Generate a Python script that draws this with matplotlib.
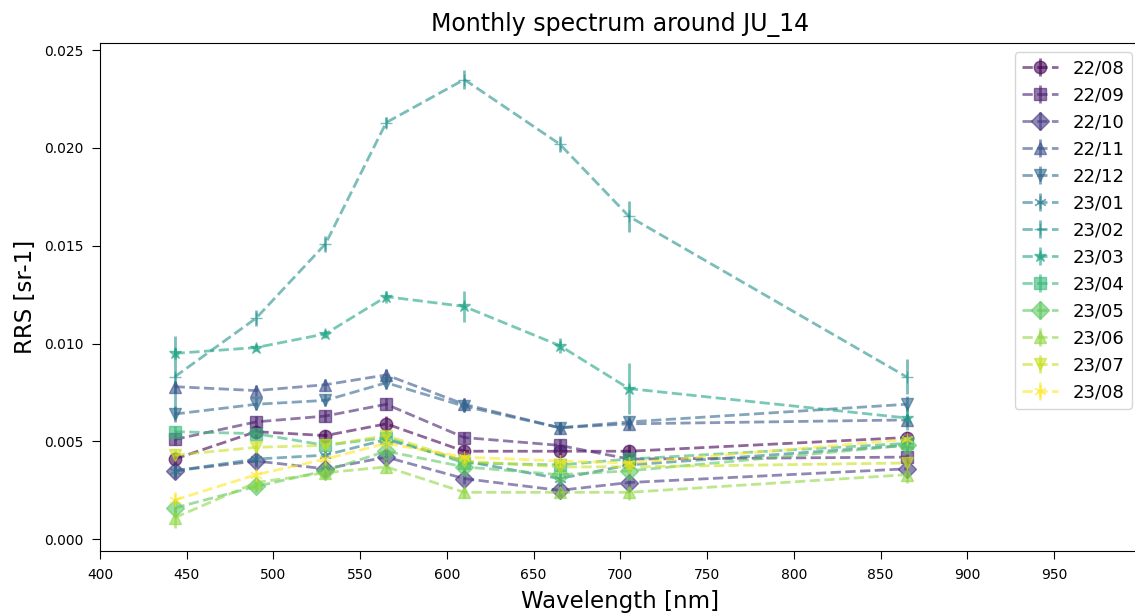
import matplotlib
matplotlib.use('Agg')
import matplotlib.pyplot as plt
import numpy as np

wavelengths = [443, 490, 530, 565, 610, 665, 705, 865]
months = ['22/08', '22/09', '22/10', '22/11', '22/12', '23/01', '23/02',
          '23/03', '23/04', '23/05', '23/06', '23/07', '23/08']

# mean RRS per month (sr-1), one value per wavelength
rrs_2208 = [0.0041, 0.0055, 0.0053, 0.0059, 0.0045, 0.0045, 0.0045, 0.0052]
rrs_2209 = [0.0051, 0.0060, 0.0063, 0.0069, 0.0052, 0.0048, 0.0041, 0.0042]
rrs_2210 = [0.0035, 0.0040, 0.0036, 0.0042, 0.0031, 0.0025, 0.0029, 0.0036]
rrs_2211 = [0.0078, 0.0076, 0.0079, 0.0084, 0.0069, 0.0057, 0.0059, 0.0061]
rrs_2212 = [0.0064, 0.0069, 0.0071, 0.0080, 0.0068, 0.0057, 0.0060, 0.0069]
rrs_2301 = [0.0035, 0.0041, 0.0043, 0.0051, 0.0040, 0.0031, 0.0038, 0.0048]
rrs_2302 = [0.0083, 0.0113, 0.0151, 0.0213, 0.0235, 0.0202, 0.0165, 0.0083]
rrs_2303 = [0.0095, 0.0098, 0.0105, 0.0124, 0.0119, 0.0099, 0.0077, 0.0062]
rrs_2304 = [0.0055, 0.0054, 0.0048, 0.0052, 0.0039, 0.0038, 0.0041, 0.0049]
rrs_2305 = [0.0016, 0.0027, 0.0035, 0.0045, 0.0037, 0.0033, 0.0035, 0.0048]
rrs_2306 = [0.0011, 0.0029, 0.0034, 0.0037, 0.0024, 0.0024, 0.0024, 0.0033]
rrs_2307 = [0.0043, 0.0047, 0.0048, 0.0053, 0.0040, 0.0037, 0.0037, 0.0039]
rrs_2308 = [0.0020, 0.0033, 0.0041, 0.0049, 0.0042, 0.0040, 0.0039, 0.0051]

# standard deviation per month
std_2208 = [0.0003, 0.0003, 0.0003, 0.0004, 0.0003, 0.0003, 0.0003, 0.0003]
std_2209 = [0.0003, 0.0003, 0.0003, 0.0003, 0.0003, 0.0003, 0.0003, 0.0003]
std_2210 = [0.0003, 0.0003, 0.0003, 0.0003, 0.0003, 0.0003, 0.0003, 0.0003]
std_2211 = [0.0003, 0.0003, 0.0003, 0.0003, 0.0003, 0.0003, 0.0003, 0.0003]
std_2212 = [0.0004, 0.0003, 0.0003, 0.0003, 0.0003, 0.0003, 0.0003, 0.0004]
std_2301 = [0.0004, 0.0003, 0.0003, 0.0003, 0.0003, 0.0003, 0.0003, 0.0003]
std_2302 = [0.0021, 0.0004, 0.0004, 0.0003, 0.0005, 0.0004, 0.0008, 0.0009]
std_2303 = [0.0003, 0.0002, 0.0002, 0.0003, 0.0008, 0.0004, 0.0013, 0.0006]
std_2304 = [0.0003, 0.0003, 0.0003, 0.0003, 0.0003, 0.0003, 0.0003, 0.0003]
std_2305 = [0.0004, 0.0003, 0.0003, 0.0003, 0.0003, 0.0003, 0.0003, 0.0003]
std_2306 = [0.0005, 0.0003, 0.0003, 0.0003, 0.0003, 0.0003, 0.0004, 0.0004]
std_2307 = [0.0003, 0.0003, 0.0003, 0.0003, 0.0003, 0.0003, 0.0003, 0.0003]
std_2308 = [0.0004, 0.0003, 0.0003, 0.0003, 0.0003, 0.0003, 0.0003, 0.0003]

rrs = [rrs_2208, rrs_2209, rrs_2210, rrs_2211, rrs_2212, rrs_2301, rrs_2302,
       rrs_2303, rrs_2304, rrs_2305, rrs_2306, rrs_2307, rrs_2308]
stds = [std_2208, std_2209, std_2210, std_2211, std_2212, std_2301, std_2302,
        std_2303, std_2304, std_2305, std_2306, std_2307, std_2308]

asterisk = (6, 2, 0)
markers = ['o', 's', 'D', '^', 'v', asterisk, '+', '*',
           's', 'D', '^', 'v', asterisk]

colors = plt.cm.viridis(np.linspace(0, 1, len(months)))

fig = plt.figure(figsize=(11.35, 6.16), dpi=100)
ax = fig.add_axes([0.0881, 0.1055, 0.917, 0.8245])

for i, month in enumerate(months):
    ax.errorbar(wavelengths, rrs[i], yerr=stds[i], fmt='--',
                marker=markers[i], color=colors[i], alpha=0.6,
                markersize=9, linewidth=2, elinewidth=2, label=month)

ax.set_xlim(400, 1000)
ax.set_ylim(-0.0006, 0.02536)
ax.set_xticks(np.arange(400, 1000, 50))
ax.tick_params(labelsize=10, length=6, pad=6)
ax.set_xlabel('Wavelength [nm]', fontsize=16.5, labelpad=6)
ax.set_ylabel('RRS [sr-1]', fontsize=16.5, labelpad=5)
ax.set_title('Monthly spectrum around JU_14', fontsize=17, pad=9)
ax.legend(loc='upper right', fontsize=13)

plt.savefig('out.png', dpi=100)
plt.close()
